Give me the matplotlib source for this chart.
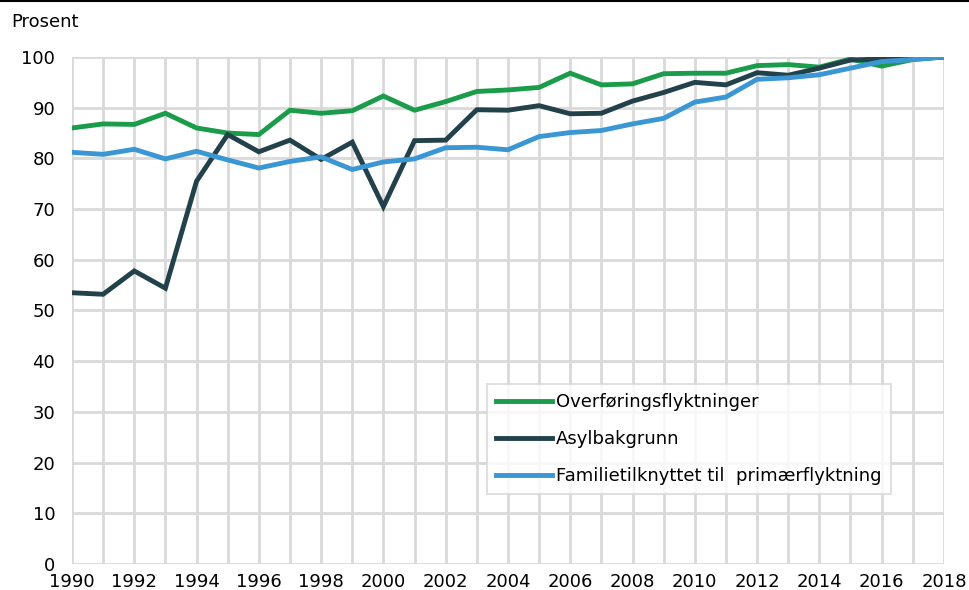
import numpy as np
import matplotlib.pyplot as plt
from matplotlib.lines import Line2D

plt.rcParams['font.family'] = ['DejaVu Sans']

years = np.arange(1990, 2019)

overforing = [86.0, 86.8, 86.7, 88.9, 86.0, 85.0, 84.7, 89.5, 88.9, 89.4,
              92.3, 89.5, 91.2, 93.2, 93.5, 94.0, 96.8, 94.5, 94.7, 96.7,
              96.8, 96.8, 98.3, 98.5, 98.0, 99.6, 98.2, 99.5, 100.0]
asyl = [53.5, 53.2, 57.8, 54.4, 75.5, 84.7, 81.3, 83.6, 79.8, 83.2,
        70.5, 83.5, 83.6, 89.6, 89.5, 90.4, 88.8, 88.9, 91.3, 93.0,
        95.0, 94.5, 96.9, 96.4, 97.8, 99.4, 99.6, 99.7, 100.0]
familie = [81.2, 80.8, 81.8, 79.9, 81.4, 79.7, 78.1, 79.4, 80.3, 77.8,
           79.3, 79.9, 82.1, 82.2, 81.7, 84.3, 85.1, 85.5, 86.8, 87.9,
           91.1, 92.1, 95.6, 95.9, 96.5, 97.8, 99.1, 99.5, 100.0]

labels = ['Overføringsflyktninger', 'Asylbakgrunn', 'Familietilknyttet til  primærflyktning']
colors = ['#1a9c4a', '#22414a', '#3a97d4']

fig = plt.figure(figsize=(9.7, 5.9), dpi=100)
ax = fig.add_axes([0.0742, 0.0441, 0.8989, 0.8593])

for vals, lab, col in zip([overforing, asyl, familie], labels, colors):
    ax.plot(years, vals, color=col, lw=3.5, label=lab, solid_joinstyle='miter')

ax.set_xlim(1990, 2018)
ax.set_ylim(0, 100)
ax.set_xticks(np.arange(1990, 2019, 2))
ax.set_xticks(years, minor=True)
ax.set_yticks(np.arange(0, 101, 10))
ax.grid(True, which='both', color='#d9d9d9', lw=2)
ax.set_axisbelow(True)
for s in ax.spines.values():
    s.set_visible(False)
ax.tick_params(which='both', length=0, labelsize=13)
ax.tick_params(axis='x', pad=6.5)
ax.tick_params(axis='y', pad=12)

fig.text(0.012, 0.962, 'Prosent', fontsize=13, va='center')
fig.add_artist(Line2D([0, 1], [0.999, 0.999], color='black', lw=1.5))

leg = ax.legend(loc='lower right', bbox_to_anchor=(0.939, 0.138), fontsize=13,
                frameon=True, fancybox=False, edgecolor='#d9d9d9',
                handlelength=3.1, handletextpad=0.22, labelspacing=1.05,
                borderpad=0.5, borderaxespad=0)
leg.get_frame().set_linewidth(1.5)

fig.savefig('out.png', dpi=100)
